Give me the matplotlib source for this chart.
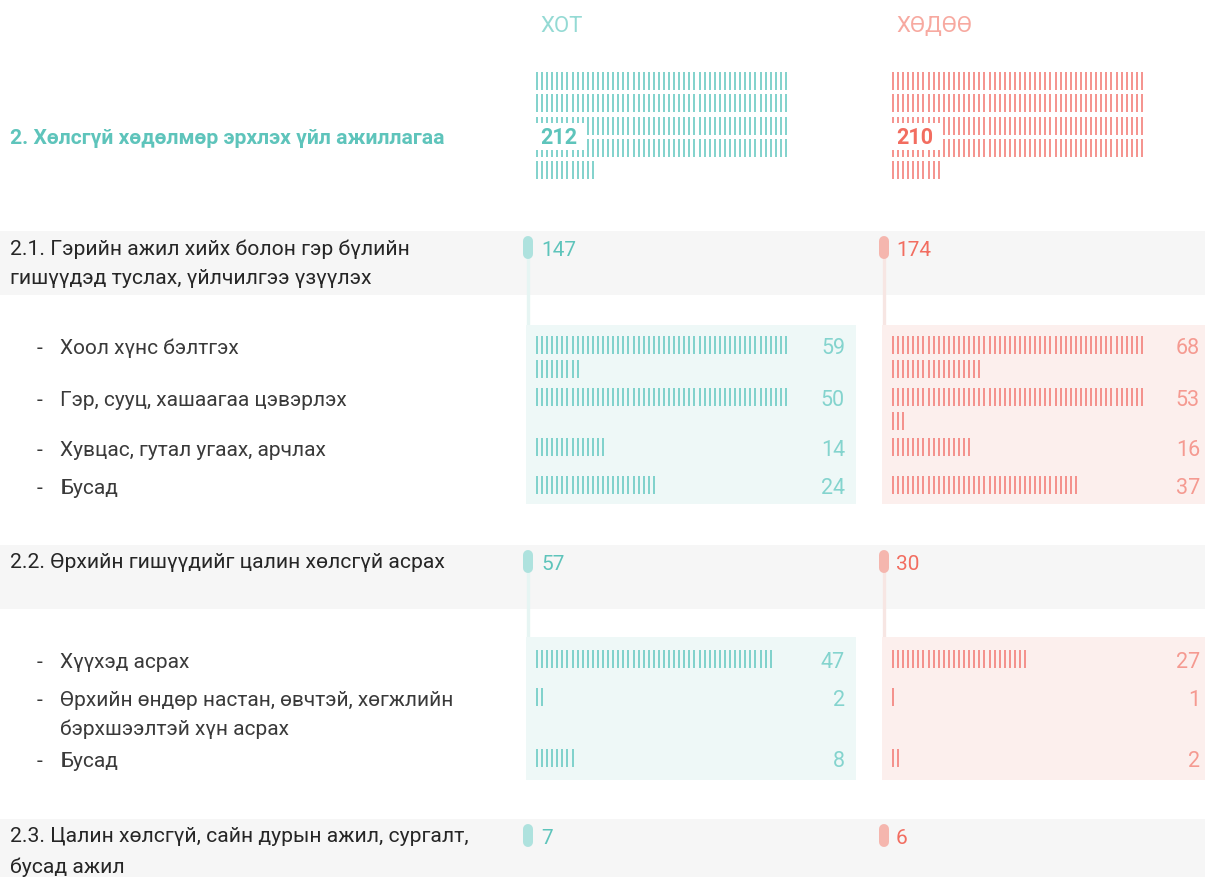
import numpy as np
import matplotlib
matplotlib.use("Agg")
import matplotlib.pyplot as plt
from matplotlib.patches import Rectangle

plt.rcParams['font.family'] = ['Roboto', 'DejaVu Sans']

# ---------------- data ----------------
col_names = ["ХОТ", "ХӨДӨӨ"]
total_title = "2. Хөлсгүй хөдөлмөр эрхлэх үйл ажиллагаа"
city_total = 212
rural_total = 210

group_labels = [
    "2.1. Гэрийн ажил хийх болон гэр бүлийн\nгишүүдэд туслах, үйлчилгээ үзүүлэх",
    "2.2. Өрхийн гишүүдийг цалин хөлсгүй асрах",
    "2.3. Цалин хөлсгүй, сайн дурын ажил, сургалт,\nбусад ажил",
]
city_group = [147, 57, 7]
rural_group = [174, 30, 6]

sub_labels_1 = ["Хоол хүнс бэлтгэх", "Гэр, сууц, хашаагаа цэвэрлэх",
                "Хувцас, гутал угаах, арчлах", "Бусад"]
city_sub_1 = [59, 50, 14, 24]
rural_sub_1 = [68, 53, 16, 37]

sub_labels_2 = ["Хүүхэд асрах",
                "Өрхийн өндөр настан, өвчтэй, хөгжлийн\nбэрхшээлтэй хүн асрах",
                "Бусад"]
city_sub_2 = [47, 2, 8]
rural_sub_2 = [27, 1, 2]

# ---------------- layout / style ----------------
W, H = 1205, 878
TEAL = "#5ec4bb"
TEAL_TALLY = "#6ccbc4"
TEAL_LIGHT = "#84d4ce"
TEAL_HEAD = "#94dad4"
TEAL_PILL = "#aee2de"
TEAL_BOX = "#eef8f7"
TEAL_LINE = "#e6f5f3"
RED = "#f26d60"
RED_TALLY = "#f3807a"
RED_LIGHT = "#f59a91"
RED_HEAD = "#f7a9a0"
RED_PILL = "#f5b6ae"
RED_BOX = "#fcefed"
RED_LINE = "#f7e6e3"
GRAY = "#f6f6f6"
TXT = "#262626"
SUBTXT = "#3a3a3a"

X_CITY = 537          # first tally column, city
X_RURAL = 893         # first tally column, rural
SP = 5.08             # tally spacing
PER_ROW = 50
PILL_CITY = 528
PILL_RURAL = 884

fig = plt.figure(figsize=(W / 100, H / 100), dpi=100)
ax = fig.add_axes([0, 0, 1, 1])
ax.set_xlim(0, W)
ax.set_ylim(H, 0)
ax.axis('off')


def tally(x0, ytop, n, color, pitch, h=18, lw=1.2):
    idx = np.arange(n)
    xs = x0 + (idx % PER_ROW) * SP
    y1 = ytop + (idx // PER_ROW) * pitch
    ax.vlines(xs, y1, y1 + h, colors=color, lw=lw, zorder=3)


# column headers
ax.text(540, 26, col_names[0], color=TEAL_HEAD, fontsize=16,
        ha='left', va='center')
ax.text(896, 26, col_names[1], color=RED_HEAD, fontsize=16,
        ha='left', va='center')

# overall title + total tallies
ax.text(10, 139, total_title, color=TEAL, fontsize=15.2, fontweight='bold',
        ha='left', va='center')
for x0, n, col, lab_col in [(X_CITY, city_total, TEAL_TALLY, TEAL),
                            (X_RURAL, rural_total, RED_TALLY, RED)]:
    tally(x0, 73, n, col, pitch=22.3)
    ax.add_patch(Rectangle((x0 - 2, 123.5), 9.6 * SP, 27.5, facecolor='white',
                           edgecolor='none', zorder=4))
    ax.text(x0 + 3, 138.5, str(n), color=lab_col, fontsize=15.5, fontweight='bold',
            ha='left', va='center', zorder=5)

# group bands
band_tops = [232, 546, 820]
band_h = [64, 64, 58]
sub_boxes = [(326, 505), (638, 781), None]
sub_rows = [[337, 389, 439, 477], [651, 689, 750], []]
subs = [(sub_labels_1, city_sub_1, rural_sub_1),
        (sub_labels_2, city_sub_2, rural_sub_2),
        ([], [], [])]

for g in range(3):
    top = band_tops[g]
    ax.add_patch(Rectangle((0, top), W, band_h[g], facecolor=GRAY,
                           edgecolor='none', zorder=0))
    lines = group_labels[g].split("\n")
    for k, ln in enumerate(lines):
        ax.text(10, top + 17 + 30 * k, ln, color=TXT, fontsize=15.2,
                ha='left', va='center', zorder=2)
    box = sub_boxes[g]
    # connectors
    if box is not None:
        ax.plot([PILL_CITY, PILL_CITY], [top + 20, box[0]], color=TEAL_LINE,
                lw=2.4, zorder=1, solid_capstyle='butt')
        ax.plot([PILL_RURAL, PILL_RURAL], [top + 20, box[0]], color=RED_LINE,
                lw=2.4, zorder=1, solid_capstyle='butt')
        ax.add_patch(Rectangle((526, box[0]), 330, box[1] - box[0],
                               facecolor=TEAL_BOX, edgecolor='none', zorder=1))
        ax.add_patch(Rectangle((882, box[0]), W - 882, box[1] - box[0],
                               facecolor=RED_BOX, edgecolor='none', zorder=1))
    # pills
    ax.plot([PILL_CITY, PILL_CITY], [top + 10, top + 23], color=TEAL_PILL,
            lw=7.2, solid_capstyle='round', zorder=3)
    ax.plot([PILL_RURAL, PILL_RURAL], [top + 10, top + 23], color=RED_PILL,
            lw=7.2, solid_capstyle='round', zorder=3)
    ax.text(541, top + 18.5, str(city_group[g]), color=TEAL, fontsize=15,
            ha='left', va='center', zorder=3)
    ax.text(896, top + 18.5, str(rural_group[g]), color=RED, fontsize=15,
            ha='left', va='center', zorder=3)

    labels, cvals, rvals = subs[g]
    for i, lab in enumerate(labels):
        yt = sub_rows[g][i]
        yc = yt + 11.5
        ax.text(37, yc, "-", color=SUBTXT, fontsize=15,
                ha='left', va='center')
        for k, ln in enumerate(lab.split("\n")):
            ax.text(60, yc + 29 * k, ln, color=SUBTXT, fontsize=15,
                    ha='left', va='center')
        tally(X_CITY, yt, cvals[i], TEAL_TALLY, pitch=24)
        tally(X_RURAL, yt, rvals[i], RED_TALLY, pitch=24)
        ax.text(845, yc, str(cvals[i]), color=TEAL_LIGHT, fontsize=15.5,
                ha='right', va='center', zorder=3)
        ax.text(1200, yc, str(rvals[i]), color=RED_LIGHT, fontsize=15.5,
                ha='right', va='center', zorder=3)

fig.savefig("out.png", dpi=100, facecolor='white')
